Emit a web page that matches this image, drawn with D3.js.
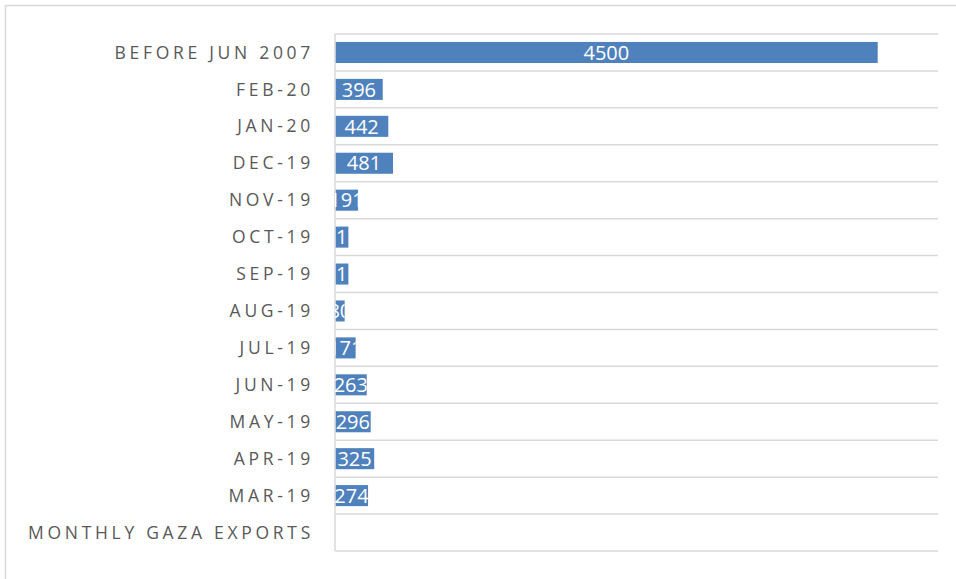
<!DOCTYPE html>
<html>
<head>
<meta charset="utf-8">
<script src="https://cdn.jsdelivr.net/npm/d3@7"></script>
<style>
  body { margin: 0; background: #fff; }
  svg { display: block; }
  .cat { font-family: "Open Sans", "Liberation Sans", sans-serif; font-size: 17.5px; fill: #595959; letter-spacing: 3.7px; }
  .val { font-family: "Open Sans", "Liberation Sans", sans-serif; font-size: 20px; fill: #fff; }
</style>
</head>
<body>
<svg id="chart" width="956" height="579"></svg>
<script>
let svg = d3.select("#chart")

let categories = [
  "BEFORE JUN 2007", "FEB-20", "JAN-20", "DEC-19", "NOV-19", "OCT-19", "SEP-19",
  "AUG-19", "JUL-19", "JUN-19", "MAY-19", "APR-19", "MAR-19", "MONTHLY GAZA EXPORTS"
]
let values = [4500, 396, 442, 481, 191, 111, 111, 80, 171, 263, 296, 325, 274, null]

let margin = { top: 34, right: 18, bottom: 28, left: 335 }
let width = 956, height = 579

let x = d3.scaleLinear()
  .domain([0, 5000])
  .range([margin.left, width - margin.right])

let y = d3.scaleBand()
  .domain(categories)
  .range([margin.top, height - margin.bottom])
  .paddingInner(0.43)
  .paddingOuter(0.215)

let half = y.step() * y.paddingInner() / 2

// outer frame
svg.append("rect")
  .attr("x", 5.5).attr("y", 5.5)
  .attr("width", width + 10).attr("height", height + 10)
  .attr("fill", "none")
  .attr("stroke", "#d9d9d9")
  .attr("stroke-width", 1.5)

// row gridlines
let bounds = categories.map(c => y(c) - half)
bounds.push(y(categories[categories.length - 1]) + y.bandwidth() + half)

svg.append("g")
  .selectAll("line")
  .data(bounds)
  .join("line")
  .attr("x1", x(0)).attr("x2", x(5000))
  .attr("y1", d => d).attr("y2", d => d)
  .attr("stroke", "#d9d9d9")
  .attr("stroke-width", 1.5)

// category axis line
svg.append("line")
  .attr("x1", x(0)).attr("x2", x(0))
  .attr("y1", bounds[0]).attr("y2", bounds[bounds.length - 1])
  .attr("stroke", "#d9d9d9")
  .attr("stroke-width", 1.5)

let yAxis = d3.axisLeft(y).tickSize(0).tickPadding(21)
svg.append("g")
  .attr("transform", `translate(${x(0)},0)`)
  .call(yAxis)
  .call(g => g.select(".domain").remove())
  .call(g => g.selectAll("text").attr("class", "cat").attr("font-size", null).attr("font-family", null).attr("fill", null).attr("dy", "0.35em"))

let rows = categories.map((c, i) => ({ cat: c, value: values[i], i: i })).filter(d => d.value != null)

let defs = svg.append("defs")
defs.selectAll("clipPath")
  .data(rows)
  .join("clipPath")
  .attr("id", d => "clip" + d.i)
  .append("rect")
  .attr("x", x(0))
  .attr("y", d => y(d.cat))
  .attr("width", d => x(d.value) - x(0))
  .attr("height", y.bandwidth())

svg.append("g")
  .selectAll("rect")
  .data(rows)
  .join("rect")
  .attr("x", x(0) + 0.75)
  .attr("y", d => y(d.cat))
  .attr("width", d => x(d.value) - x(0) - 0.75)
  .attr("height", y.bandwidth())
  .attr("fill", "#4f81bd")

svg.append("g")
  .selectAll("text")
  .data(rows)
  .join("text")
  .attr("class", "val")
  .attr("clip-path", d => `url(#clip${d.i})`)
  .attr("x", d => (x(0) + x(d.value)) / 2)
  .attr("y", d => y(d.cat) + y.bandwidth() / 2)
  .attr("dy", "0.36em")
  .attr("text-anchor", "middle")
  .text(d => d.value)
</script>
</body>
</html>
